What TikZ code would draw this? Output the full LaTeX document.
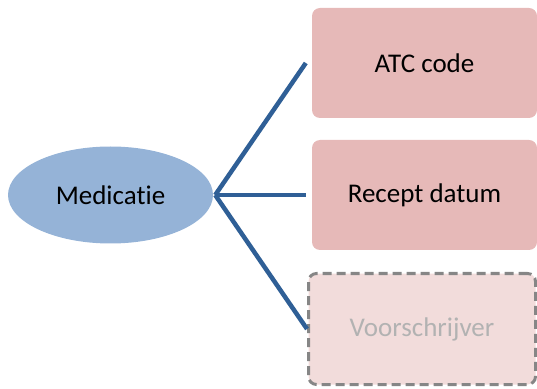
\documentclass[tikz,border=0pt]{standalone}
\usepackage{fontspec}
\setmainfont{Carlito}[Ligatures=NoCommon]
\usepackage{xcolor}
\usepackage{tikz}
\usetikzlibrary{shapes.geometric, calc}
\definecolor{bleu}{RGB}{149,179,215}
\definecolor{trait}{RGB}{47,95,150}
\definecolor{rose}{RGB}{230,185,184}
\definecolor{rosepale}{RGB}{242,220,219}
\definecolor{grisbord}{RGB}{134,134,134}
\definecolor{gristexte}{RGB}{178,178,178}
\tikzstyle{ovale} = [ellipse, fill=bleu, minimum width=205pt, minimum height=97pt, inner sep=0pt]
\tikzstyle{boite} = [rectangle, rounded corners=8pt, fill=rose, minimum width=225pt, minimum height=110pt, inner sep=0pt]
\tikzstyle{option} = [rectangle, rounded corners=8pt, fill=rosepale, draw=grisbord, line width=3pt, dash pattern=on 9pt off 5pt, minimum width=227pt, minimum height=111pt, inner sep=0pt, text=gristexte]
\tikzstyle{lien} = [-, line width=4.5pt, trait]

\begin{document}
\begin{tikzpicture}[x=1pt, y=1pt, font=\fontsize{27}{31}\selectfont]
    \useasboundingbox (0,0) rectangle (537,388);

    %% entite
    \node (med) [ovale] at (110.5,193) {Medicatie};

    %% attributen
    \node (atc) [boite] at (424.5,325) {ATC code};
    \node (datum) [boite] at (424.5,193) {Recept datum};
    \node (voor) [option] at (422,59) {Voorschrijver};

    %% verbindingen
    \draw[lien] ([xshift=2pt]med.east) -- ([xshift=-6pt]atc.west);
    \draw[lien] ([xshift=2pt]med.east) -- ([xshift=-6pt]datum.west);
    \draw[lien] ([xshift=2pt]med.east) -- (voor.west);
\end{tikzpicture}
\end{document}
